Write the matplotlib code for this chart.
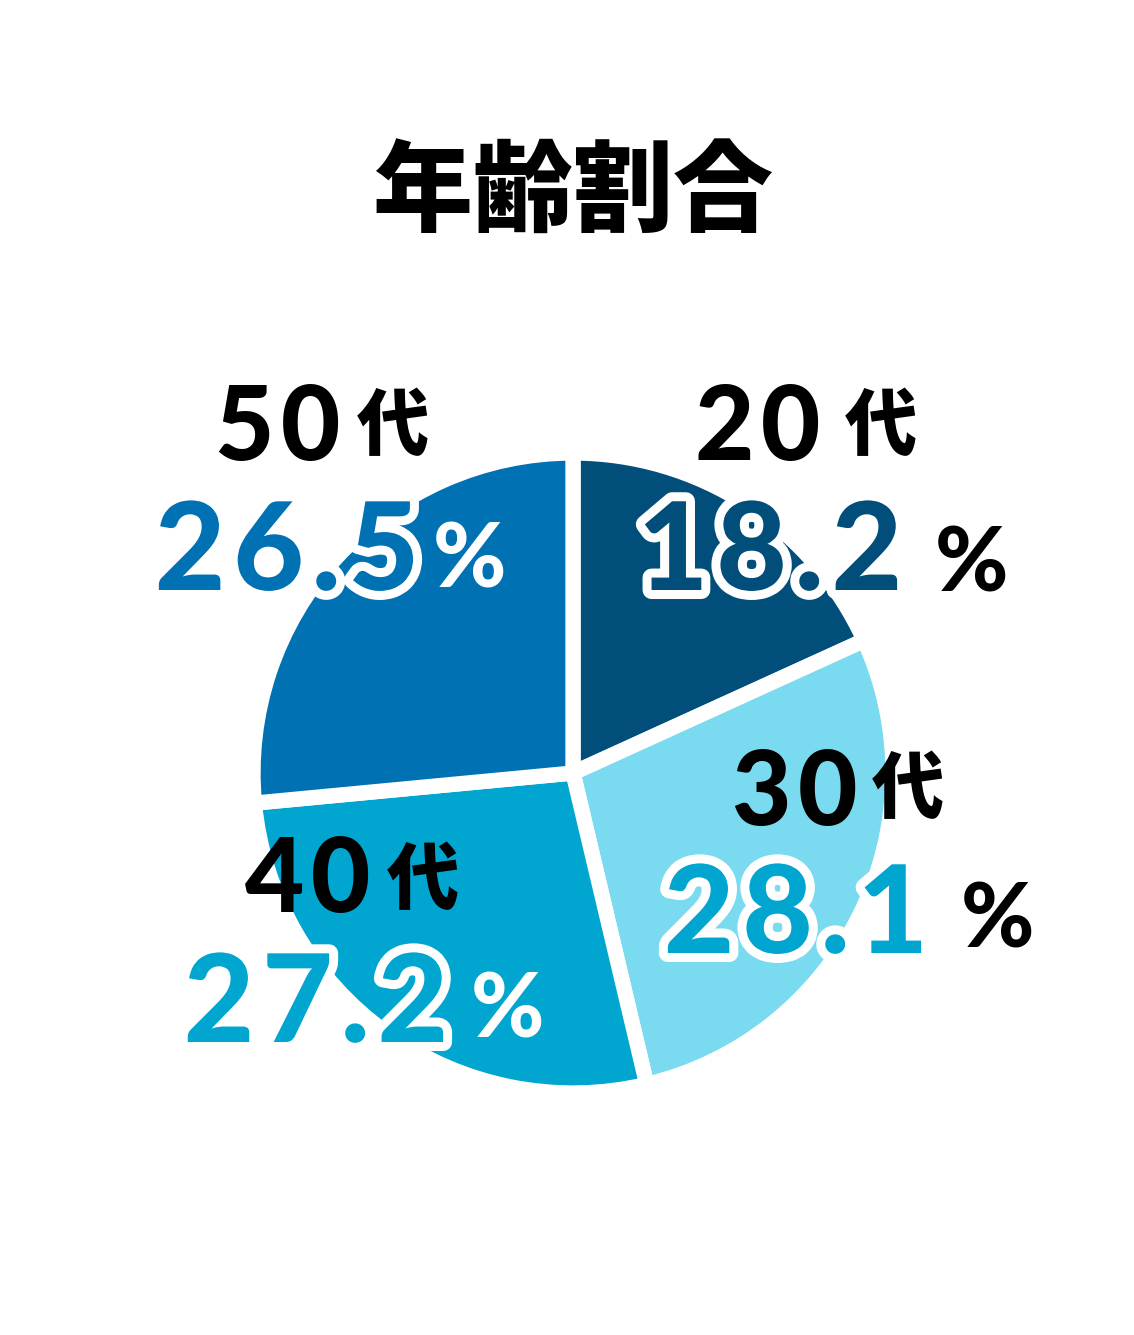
import matplotlib
matplotlib.use("Agg")
import matplotlib.pyplot as plt
import matplotlib.patheffects as pe

# data
ages = ['20', '30', '40', '50']
shares = [18.2, 28.1, 27.2, 26.5]
share_labels = ['18.2', '28.1', '27.2', '26.5']
slice_colors = ['#004e79', '#79daf0', '#00a6cf', '#0072b4']
num_colors = ['#004e79', '#00a6cf', '#00a6cf', '#0072b4']
pct_colors = ['black', 'black', 'white', 'white']
title = '年齢割合'

W, H = 1134, 1335
fig = plt.figure(figsize=(W / 100, H / 100), dpi=100)
ax = fig.add_axes([0, 0, 1, 1])

def Y(py):
    return H - py

ax.pie(shares, center=(573, Y(773)), radius=320, startangle=90, counterclock=False,
       colors=slice_colors, wedgeprops=dict(edgecolor='white', linewidth=11))

ax.set_xlim(0, W)
ax.set_ylim(0, H)
ax.set_aspect('equal')
ax.axis('off')

jp = ['Noto Sans CJK JP', 'DejaVu Sans']
num_font = ['Lato', 'DejaVu Sans']

ax.text(573, Y(195), title, ha='center', va='center', fontsize=72,
        family=jp, weight='black')

# label layout (pixel positions of the reference)
age_pos = [(758, 460), (795, 825), (308, 912), (278, 460)]
kanji_pos = [(881, 428), (908, 791), (423, 882), (393, 428)]
num_pos = [(770, 590), (796, 953), (316, 1042), (287, 590)]
pct_pos = [(971, 592), (998, 948), (507, 1038), (470, 587)]

for i in range(4):
    ax.text(age_pos[i][0], Y(age_pos[i][1]), '\u200a'.join(ages[i]), ha='center',
            va='baseline', fontsize=74, family=num_font, weight='black', color='black')
    ax.text(kanji_pos[i][0], Y(kanji_pos[i][1]), '代', ha='center', va='center',
            fontsize=52, family=jp, weight='black', color='black')
    ax.text(num_pos[i][0], Y(num_pos[i][1]), '\u200a'.join(share_labels[i]), ha='center',
            va='baseline', fontsize=88, family=num_font, weight='black', color=num_colors[i],
            path_effects=[pe.withStroke(linewidth=13, foreground='white')])
    ax.text(pct_pos[i][0], Y(pct_pos[i][1]), '%', ha='center', va='baseline',
            fontsize=64, family=num_font, weight='black', color=pct_colors[i])

fig.savefig('out.png', dpi=100, facecolor='white')
